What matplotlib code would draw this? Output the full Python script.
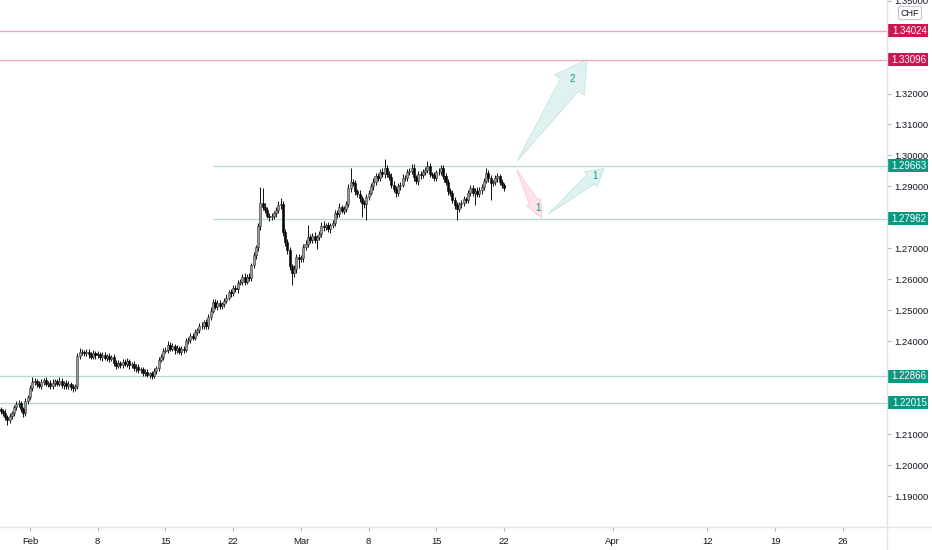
import numpy as np
import matplotlib.pyplot as plt
from matplotlib.patches import Rectangle, Polygon
from matplotlib.transforms import IdentityTransform, blended_transform_factory
from matplotlib.lines import Line2D

plt.rcParams['font.family'] = ['Liberation Sans', 'DejaVu Sans']

# GBPCHF 4H candles, 28 Jan - 22 Mar (x = trading days from 1 Feb)
first_bar = -13
first_open = 1.2180
closes = [
    1.2174, 1.2168, 1.2155, 1.2145, 1.2158, 1.2168, 1.2187, 1.2197,
    1.2200, 1.2181, 1.2168, 1.2206, 1.2219, 1.2248, 1.2268, 1.2271,
    1.2261, 1.2256, 1.2268, 1.2274, 1.2262, 1.2266, 1.2255, 1.2265,
    1.2270, 1.2263, 1.2272, 1.2260, 1.2266, 1.2254, 1.2262, 1.2252,
    1.2248, 1.2255, 1.2352, 1.2365, 1.2365, 1.2361, 1.2365, 1.2358,
    1.2350, 1.2362, 1.2354, 1.2359, 1.2348, 1.2356, 1.2346, 1.2353,
    1.2343, 1.2349, 1.2330, 1.2320, 1.2330, 1.2324, 1.2333, 1.2327,
    1.2336, 1.2322, 1.2327, 1.2312, 1.2318, 1.2306, 1.2311, 1.2298,
    1.2302, 1.2291, 1.2296, 1.2288, 1.2305, 1.2312, 1.2340, 1.2348,
    1.2370, 1.2372, 1.2389, 1.2376, 1.2385, 1.2371, 1.2378, 1.2366,
    1.2376, 1.2372, 1.2400, 1.2404, 1.2418, 1.2412, 1.2430, 1.2436,
    1.2449, 1.2450, 1.2462, 1.2449, 1.2478, 1.2498, 1.2527, 1.2512,
    1.2524, 1.2513, 1.2520, 1.2530, 1.2541, 1.2560, 1.2555, 1.2572,
    1.2568, 1.2589, 1.2590, 1.2608, 1.2592, 1.2607, 1.2604, 1.2645,
    1.2677, 1.2703, 1.2771, 1.2845, 1.2835, 1.2823, 1.2806, 1.2800,
    1.2803, 1.2813, 1.2823, 1.2839, 1.2842, 1.2752, 1.2719, 1.2694,
    1.2642, 1.2619, 1.2632, 1.2671, 1.2665, 1.2668, 1.2703, 1.2713,
    1.2738, 1.2728, 1.2740, 1.2727, 1.2736, 1.2745, 1.2772, 1.2768,
    1.2774, 1.2763, 1.2775, 1.2781, 1.2813, 1.2810, 1.2832, 1.2822,
    1.2826, 1.2842, 1.2894, 1.2913, 1.2910, 1.2884, 1.2877, 1.2861,
    1.2845, 1.2842, 1.2865, 1.2880, 1.2901, 1.2915, 1.2933, 1.2928,
    1.2946, 1.2940, 1.2958, 1.2940, 1.2930, 1.2906, 1.2893, 1.2880,
    1.2900, 1.2906, 1.2927, 1.2928, 1.2946, 1.2949, 1.2961, 1.2929,
    1.2916, 1.2939, 1.2936, 1.2948, 1.2954, 1.2965, 1.2939, 1.2936,
    1.2928, 1.2945, 1.2948, 1.2958, 1.2935, 1.2913, 1.2884, 1.2880,
    1.2855, 1.2839, 1.2826, 1.2842, 1.2846, 1.2858, 1.2857, 1.2878,
    1.2894, 1.2880, 1.2885, 1.2876, 1.2888, 1.2897, 1.2919, 1.2942,
    1.2926, 1.2910, 1.2913, 1.2926, 1.2932, 1.2913, 1.2903, 1.2894,
]
# wick lengths in pips beyond the body
upper_wick = [
    9, 7, 12, 6, 11, 8, 7, 10,
    9, 7, 6, 11, 8, 12, 16, 9,
    8, 11, 9, 6, 10, 7, 9, 12,
    7, 9, 11, 8, 6, 10, 9, 7,
    9, 8, 11, 14, 9, 7, 10, 9,
    8, 11, 6, 9, 7, 10, 9, 6,
    9, 7, 11, 8, 9, 6, 10, 8,
    9, 7, 6, 10, 8, 9, 7, 6,
    8, 9, 6, 7, 10, 9, 8, 11,
    9, 10, 12, 7, 9, 6, 10, 8,
    9, 8, 11, 9, 7, 10, 9, 8,
    9, 11, 8, 9, 10, 12, 9, 8,
    9, 10, 8, 9, 11, 7, 9, 10,
    9, 8, 10, 9, 13, 10, 14, 9,
    10, 9, 12, 52, 49, 12, 10, 9,
    10, 9, 12, 13, 19, 10, 9, 12,
    10, 9, 13, 10, 12, 9, 10, 13,
    36, 9, 10, 12, 8, 10, 12, 16,
    9, 10, 8, 9, 12, 10, 14, 9,
    10, 12, 13, 48, 10, 12, 9, 10,
    9, 10, 12, 9, 10, 12, 9, 10,
    9, 12, 32, 10, 9, 12, 10, 9,
    10, 9, 12, 10, 9, 12, 12, 10,
    9, 10, 12, 9, 10, 16, 12, 9,
    10, 9, 12, 12, 10, 9, 12, 10,
    9, 10, 12, 9, 10, 12, 9, 10,
    12, 9, 10, 13, 10, 12, 9, 16,
    10, 12, 9, 10, 12, 9, 10, 9,
]
lower_wick = [
    9, 10, 8, 16, 9, 8, 10, 9,
    8, 10, 13, 9, 10, 8, 9, 8,
    9, 8, 10, 9, 8, 11, 9, 8,
    10, 8, 9, 11, 13, 9, 8, 10,
    11, 9, 8, 9, 10, 8, 9, 11,
    8, 9, 10, 8, 9, 12, 8, 9,
    10, 8, 9, 11, 8, 9, 10, 8,
    9, 11, 8, 9, 10, 8, 9, 11,
    9, 8, 11, 9, 8, 10, 9, 8,
    9, 8, 10, 9, 8, 11, 9, 8,
    9, 10, 8, 9, 11, 8, 9, 10,
    8, 9, 11, 8, 9, 10, 8, 9,
    11, 8, 9, 10, 8, 9, 11, 8,
    9, 11, 8, 9, 10, 8, 9, 11,
    9, 10, 12, 13, 12, 10, 9, 12,
    10, 9, 12, 10, 13, 12, 10, 13,
    12, 38, 10, 13, 29, 10, 12, 10,
    9, 10, 12, 10, 29, 9, 10, 12,
    10, 9, 12, 10, 9, 12, 10, 9,
    12, 10, 9, 12, 10, 13, 12, 10,
    45, 12, 52, 10, 9, 12, 10, 9,
    10, 9, 12, 10, 9, 12, 10, 13,
    10, 12, 9, 10, 12, 9, 10, 12,
    9, 10, 12, 9, 10, 12, 9, 10,
    12, 10, 9, 12, 10, 9, 12, 10,
    10, 12, 36, 10, 12, 9, 10, 12,
    10, 12, 40, 10, 9, 12, 10, 9,
    12, 55, 10, 9, 12, 10, 9, 10,
]

# horizontal levels
levels = [1.34024, 1.33096, 1.29663, 1.27962, 1.22866, 1.22015]
level_kind = ['res', 'res', 'sup', 'sup', 'sup', 'sup']
level_from = [-2.3, -2.3, 13.5, 13.5, -2.3, -2.3]

# projected moves: (tail day, tail price), (tip day, tip price), label
arrows = [
    ((35.94, 1.2981), (41.11, 1.3310), '2', 'up'),
    ((35.94, 1.2952), (37.79, 1.2797), '1', 'down'),
    ((38.23, 1.2810), (42.36, 1.2958), '1', 'up'),
]
arrow_label_pos = [(40.0, 1.3248), (37.49, 1.2829), (41.7, 1.2935)]

date_ticks = [0, 5, 10, 15, 20, 25, 30, 35, 43, 50, 55, 60]
date_labels = ['Feb', '8', '15', '22', 'Mar', '8', '15', '22', 'Apr', '12', '19', '26']
price_ticks = np.round(np.arange(1.19, 1.3501, 0.01), 2)
hidden_ticks = [1.22, 1.23, 1.28, 1.33, 1.34]   # sit under the level labels

TEAL = '#089981'
RED = '#cc1650'
TEXT = '#131722'
AXIS = '#e0e3eb'

c = np.array(closes)
o = np.array([first_open] + closes[:-1])
hi = np.maximum(o, c) + np.array(upper_wick) * 0.0001
lo = np.minimum(o, c) - np.array(lower_wick) * 0.0001
x = (np.arange(len(c)) + first_bar) / 6.0

fig = plt.figure(figsize=(9.32, 5.5), dpi=100)
ax = fig.add_axes([0, 23 / 550, 887 / 932, 527 / 550])
ax.set_xlim(-2.214, 63.25)
ax.set_ylim(1.18, 1.3502)

for side in ['top', 'left', 'right', 'bottom']:
    ax.spines[side].set_visible(False)

# levels
for lv, kind, x0 in zip(levels, level_kind, level_from):
    col = '#f4a3ba' if kind == 'res' else '#acdcd5'
    ax.hlines(lv, x0, 63.25, color=col, lw=0.9, zorder=1)

# candles
ax.vlines(x, lo, hi, color='#111111', lw=0.7, zorder=2)
body = np.maximum(np.abs(c - o), 0.00006)
up = c >= o
ax.bar(x[up], body[up], bottom=o[up], width=0.15, color='#9a9a9a',
       edgecolor='#333333', linewidth=0.4, zorder=3)
ax.bar(x[~up], body[~up], bottom=c[~up], width=0.15, color='black',
       edgecolor='black', linewidth=0.4, zorder=3)

# axes ticks
ax.yaxis.tick_right()
ax.set_yticks(price_ticks)
ax.set_yticklabels(['' if v in hidden_ticks else f'{v:.5f}' for v in price_ticks])
ax.set_xticks(date_ticks)
ax.set_xticklabels(date_labels)
ax.tick_params(axis='y', length=3, color='#b2b5be', labelsize=6.8,
               labelcolor=TEXT, pad=2)
ax.tick_params(axis='x', length=3, color='#b2b5be', labelsize=6.8,
               labelcolor=TEXT, pad=4)

fig.add_artist(Line2D([887 / 932, 887 / 932], [0, 1], color=AXIS, lw=1))
fig.add_artist(Line2D([0, 1], [23 / 550, 23 / 550], color=AXIS, lw=1))

# price labels on the scale
tr = blended_transform_factory(ax.transAxes, ax.transData)
box_w = 41 / 887
box_h = 13 / 3100
for lv, kind in zip(levels, level_kind):
    col = RED if kind == 'res' else TEAL
    ax.add_patch(Rectangle((1.0, lv - box_h / 2), box_w, box_h, transform=tr,
                           facecolor=col, edgecolor='none', clip_on=False, zorder=5))
    ax.text(1.0 + box_w / 2 + 0.002, lv, f'{lv:.5f}', transform=tr, color='white',
            fontsize=7, ha='center', va='center', clip_on=False, zorder=6)

fig.text(910 / 932, 1 - 13 / 550, 'CHF', fontsize=6.5, color=TEXT, ha='center',
         va='center', bbox=dict(boxstyle='round,pad=0.25', fc='white',
                                ec='#b2b5be', lw=0.6))

# arrows (drawn in pixels so the head keeps its shape)
sizes = [(31, 18, 11), (18, 8, 5), (17, 10, 6)]
for (tail, tip, lab, kind), (hl, hw, sw), lp in zip(arrows, sizes, arrow_label_pos):
    t0 = ax.transData.transform(tail)
    t1 = ax.transData.transform(tip)
    u = (t1 - t0) / np.hypot(*(t1 - t0))
    n = np.array([-u[1], u[0]])
    base = t1 - u * hl
    pts = [t0, base + n * sw, base + n * hw, t1, base - n * hw, base - n * sw]
    if kind == 'up':
        fc, ec = '#b2dfdb', '#80cbc4'
    else:
        fc, ec = '#f8bbd0', '#f48fb1'
    ax.add_patch(Polygon(pts, closed=True, transform=IdentityTransform(),
                         facecolor=fc, edgecolor=ec, alpha=0.4, lw=0.6,
                         zorder=4, clip_on=False))
    ax.text(lp[0], lp[1], lab, color=TEAL, fontsize=7, ha='center', va='center',
            zorder=6)

fig.savefig('out.png', dpi=100)
